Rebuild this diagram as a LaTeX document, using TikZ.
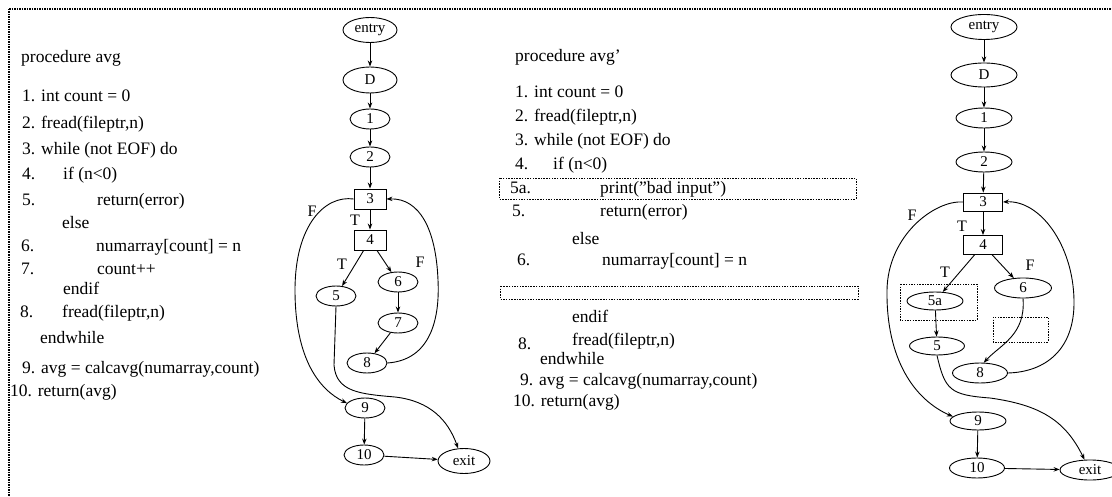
\documentclass[tikz,border=0pt]{standalone}
\usepackage{fontspec}
\setmainfont{Liberation Serif}
\usetikzlibrary{shapes.geometric,arrows.meta}
\tikzset{
  blk/.style={draw,ellipse,line width=.9pt,inner sep=0pt,minimum width=40pt,minimum height=20pt,font=\fontsize{15}{15}\selectfont},
  cond/.style={draw,rectangle,line width=.9pt,inner sep=0pt,minimum width=32pt,minimum height=20pt,font=\fontsize{15}{15}\selectfont},
  code/.style={anchor=base west,inner sep=0pt,font=\fontsize{17.5}{18}\selectfont},
  lbl/.style={inner sep=0pt,font=\fontsize{16}{16}\selectfont},
  flow/.style={line width=.9pt,-{Stealth[length=6pt,width=4.5pt]}},
  gap/.style={line width=.7pt,dash pattern=on 1.5pt off 1.2pt}
}
\begin{document}
\begin{tikzpicture}[x=1pt,y=-1pt]
\useasboundingbox (0,0) rectangle (1112,497);
\draw[line width=1.3pt,dash pattern=on 1.5pt off 1pt] (9,9)--(1112,9);
\draw[line width=2.2pt,dash pattern=on 1.5pt off 1pt] (9,9)--(9,497);
% procedure avg
\node[code] (L0) at (21,63) {procedure avg};
\node[code] (L1) at (22,102) {1. int count = 0};
\node[code] (L2) at (22,129) {2. fread(fileptr,n)};
\node[code] (L3) at (22,155) {3. while (not EOF) do};
\node[code] (L4n) at (22,180) {4.};
\node[code] (L4) at (63,180) {if (n<0)};
\node[code] (L5n) at (22,206) {5.};
\node[code] (L5) at (97,206) {return(error)};
\node[code] (Lel) at (62,229) {else};
\node[code] (L6n) at (21,252) {6.};
\node[code] (L6) at (96,252) {numarray[count] = n};
\node[code] (L7n) at (21,275) {7.};
\node[code] (L7) at (97,275) {count++};
\node[code] (Lei) at (63,295) {endif};
\node[code] (L8n) at (20,317) {8.};
\node[code] (L8) at (62,317) {fread(fileptr,n)};
\node[code] (Lew) at (40,344) {endwhile};
\node[code] (L9) at (22,373) {9. avg = calcavg(numarray,count)};
\node[code] (L10) at (10,396) {10. return(avg)};
% procedure avg'
\node[code] (M0) at (515,62) {procedure avg'};
\node[code] (M1) at (515,98) {1. int count = 0};
\node[code] (M2) at (515,122) {2. fread(fileptr,n)};
\node[code] (M3) at (515,146) {3. while (not EOF) do};
\node[code] (M4n) at (515,170) {4.};
\node[code] (M4) at (553,170) {if (n<0)};
\node[code] (M5an) at (510,194) {5a.};
\node[code] (M5a) at (600,194) {print(\symbol{34}bad input\symbol{34})};
\node[code] (M5n) at (512,217) {5.};
\node[code] (M5) at (600,217) {return(error)};
\node[code] (Mel) at (572,245) {else};
\node[code] (M6n) at (517,266) {6.};
\node[code] (M6) at (602,266) {numarray[count] = n};
\node[code] (Mei) at (572,323) {endif};
\node[code] (M8n) at (518,349) {8.};
\node[code] (M8) at (572,345) {fread(fileptr,n)};
\node[code] (Mew) at (540,364) {endwhile};
\node[code] (M9) at (520,385) {9. avg = calcavg(numarray,count)};
\node[code] (M10) at (513,406) {10. return(avg)};
\draw[gap] (499,178) rectangle (856,199);
\draw[gap] (500,286) rectangle (858,299);
% graph of avg
\node[blk,minimum width=54pt,minimum height=25pt] (entA) at (370,30) {entry};
\node[blk,minimum width=54pt,minimum height=26pt] (dA) at (370,80) {D};
\node[blk] (a1) at (370,119) {1};
\node[blk] (a2) at (370,157) {2};
\node[cond] (a3) at (370,199) {3};
\node[cond] (a4) at (370,240) {4};
\node[blk] (a5) at (336,296) {5};
\node[blk] (a6) at (398,282) {6};
\node[blk] (a7) at (398,323) {7};
\node[blk] (a8) at (367,363) {8};
\node[blk] (a9) at (365,408) {9};
\node[blk] (a10) at (364,455) {10};
\node[blk,minimum width=52pt,minimum height=25pt] (exA) at (464,461) {exit};
\draw[flow] (entA)--(dA);
\draw[flow] (dA)--(a1);
\draw[flow] (a1)--(a2);
\draw[flow] (a2)--(a3);
\draw[flow] (a3)--(a4);
\draw[flow] (a4)--(a5);
\draw[flow] (a4)--(a6);
\draw[flow] (a6)--(a7);
\draw[flow] (a7)--(a8);
\draw[flow] (a9)--(a10);
\draw[flow] (a10)--(exA);
\draw[flow] (a3.west) .. controls (325,195) and (295,225) .. (295,290) .. controls (295,360) and (320,390) .. (a9.165);
\draw[flow] (a8.east) .. controls (430,360) and (440,320) .. (438,280) .. controls (436,230) and (420,198) .. (a3.east);
\draw[flow] (a5.south) -- (334,365) .. controls (336,392) and (360,394) .. (395,397) .. controls (430,401) and (448,420) .. (exA.115);
\node[lbl] (tA1) at (355,220) {T};
\node[lbl] (fA1) at (312,211) {F};
\node[lbl] (tA2) at (342,264) {T};
\node[lbl] (fA2) at (420,262) {F};
% graph of avg'
\node[blk,minimum width=66pt,minimum height=25pt] (entB) at (984,27) {entry};
\node[blk,minimum width=66pt,minimum height=24pt] (dB) at (984,75) {D};
\node[blk,minimum width=56pt] (b1) at (984,118) {1};
\node[blk,minimum width=56pt] (b2) at (984,162) {2};
\node[cond,minimum width=39pt,minimum height=18pt] (b3) at (983,202) {3};
\node[cond,minimum width=39pt,minimum height=19pt] (b4) at (983,245) {4};
\node[blk,minimum width=56pt,minimum height=18pt] (b5a) at (935,301) {5a};
\node[blk,minimum width=57pt] (b6) at (1023,288) {6};
\node[blk,minimum width=55pt,minimum height=18pt] (b5) at (937,346) {5};
\node[blk,minimum width=55pt] (b8) at (980,373) {8};
\node[blk,minimum width=56pt,minimum height=18pt] (b9) at (978,421) {9};
\node[blk,minimum width=55pt] (b10) at (977,468) {10};
\node[blk,minimum width=60pt] (exB) at (1090,470) {exit};
\draw[gap] (900,284) rectangle (977,320);
\draw[gap] (993,317) rectangle (1048,342);
\draw[flow] (entB)--(dB);
\draw[flow] (dB)--(b1);
\draw[flow] (b1)--(b2);
\draw[flow] (b2)--(b3);
\draw[flow] (b3)--(b4);
\draw[flow] (b4)--(b5a);
\draw[flow] (b4)--(b6);
\draw[flow] (b5a)--(b5);
\draw[flow] (b9)--(b10);
\draw[flow] (b10)--(exB);
\draw[flow] (b6.south) .. controls (1026,335) and (1000,345) .. (b8.70);
\draw[flow] (b3.west) .. controls (935,200) and (888,235) .. (887,290) .. controls (886,360) and (915,400) .. (b9.170);
\draw[flow] (b8.east) .. controls (1045,372) and (1075,350) .. (1074,300) .. controls (1073,245) and (1040,200) .. (b3.east);
\draw[flow] (b5.south) .. controls (945,390) and (950,395) .. (990,398) .. controls (1040,405) and (1065,420) .. (exB.118);
\node[lbl] (tB1) at (962,226) {T};
\node[lbl] (fB1) at (912,215) {F};
\node[lbl] (tB2) at (945,272) {T};
\node[lbl] (fB2) at (1030,265) {F};
\end{tikzpicture}
\end{document}
